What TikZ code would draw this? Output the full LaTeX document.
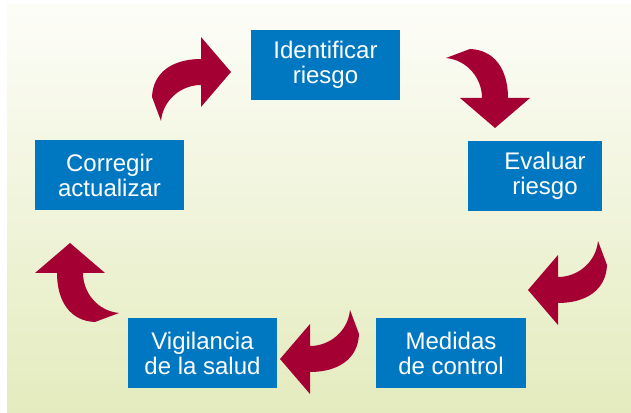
\documentclass[tikz,border=0pt]{standalone}
\usepackage{fontspec}
\setmainfont{Liberation Sans}
\definecolor{boxblue}{RGB}{0,120,193}
\definecolor{arrowred}{RGB}{165,0,52}
\definecolor{bgtop}{RGB}{253,253,248}
\definecolor{bgbot}{RGB}{228,235,190}
\tikzset{
	box/.style={fill=boxblue, text=white, inner sep=0pt, align=center, minimum height=70pt, font=\fontsize{24}{25}\selectfont},
	bendarrow/.pic={
		\fill[arrowred] (-49,-25) .. controls (-48,0) and (-28,13) .. (0,13) -- (0,35) -- (30,0) -- (0,-35) -- (0,-13)
		.. controls (-20,-13) and (-38,-28) .. (-40,-49) -- cycle;
	}
}
\begin{document}
\begin{tikzpicture}[x=1pt, y=1pt, line join=round]
				\useasboundingbox (0,0) rectangle (631,412);
				\shade[top color=bgtop, bottom color=bgbot] (7,0) rectangle (631,407);
				\path (325.5,347) node[box, minimum width=149pt] (ident) {Identificar\\riesgo}
				(535,236) node[box, minimum width=134pt] (eval) {\hspace*{20pt}Evaluar\\\hspace*{20pt}riesgo}
				(451,59) node[box, minimum width=150pt] (medidas) {Medidas\\de control}
				(202.5,59) node[box, minimum width=149pt] (vigil) {Vigilancia\\de la salud}
				(109.5,236.5) node[box, minimum width=149pt] (correg) {Corregir\\actualizar};
				% flechas curvas
				\pic at (201,340) {bendarrow};
				\pic[rotate=-90] at (495,314) {bendarrow};
				\pic[rotate=180] at (558,122) {bendarrow};
				\pic[rotate=180] at (310,53) {bendarrow};
				\pic[rotate=90] at (70,139) {bendarrow};
			\end{tikzpicture}
\end{document}
